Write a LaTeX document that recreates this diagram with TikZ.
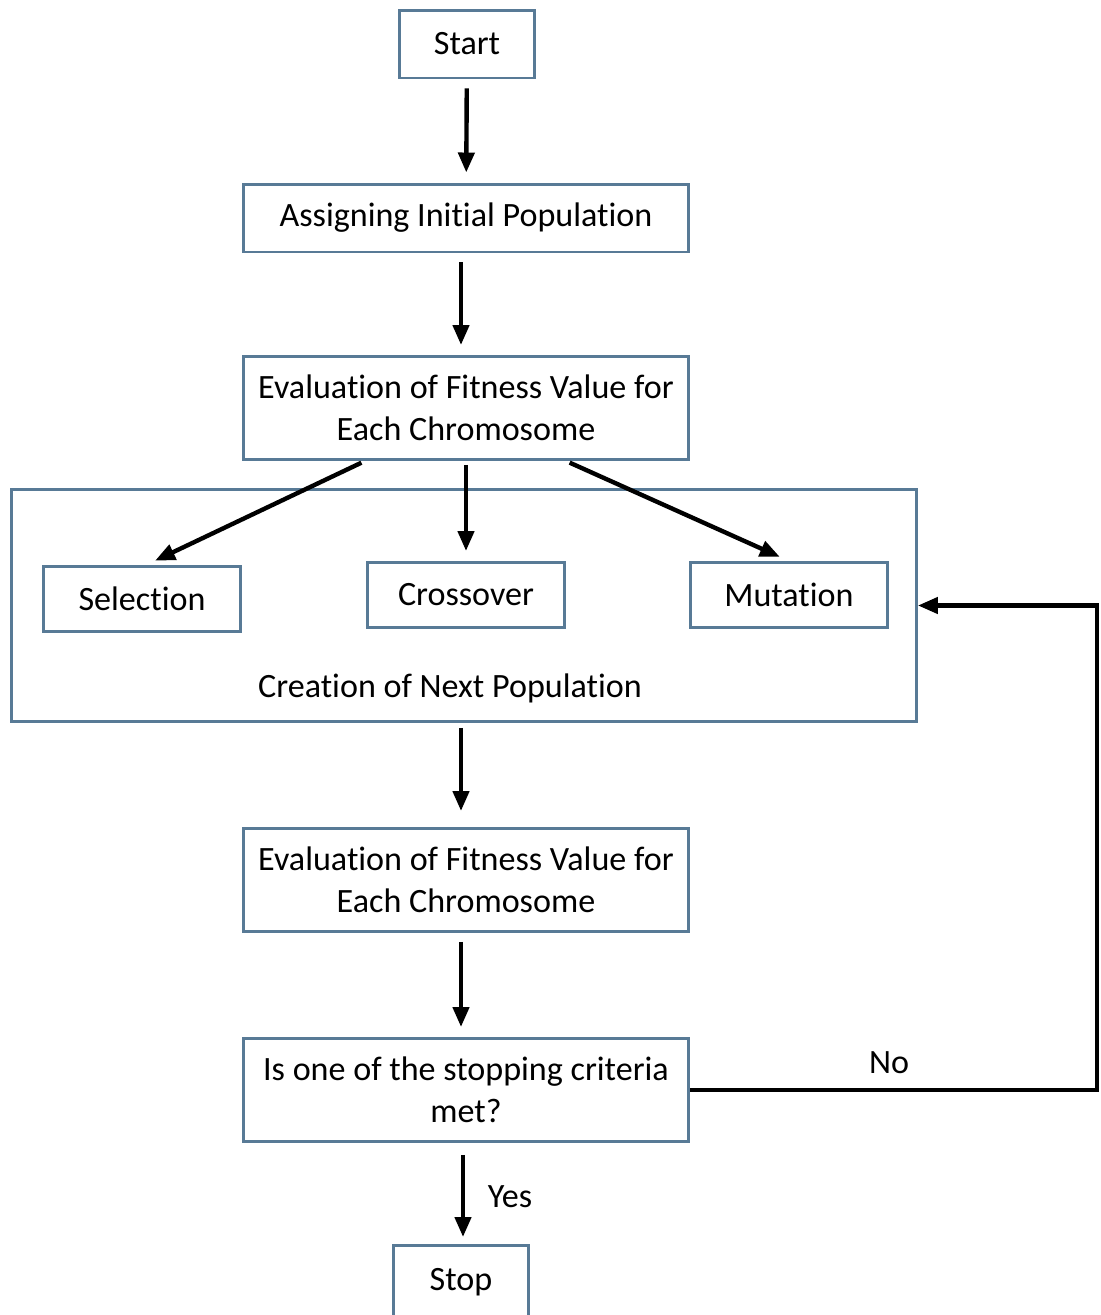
\documentclass[tikz,border=0pt]{standalone}
\usepackage{fontspec}
\setmainfont[RawFeature={-liga;-clig;-calt;-dlig}]{Carlito}
\usetikzlibrary{arrows.meta}

\definecolor{boxblue}{RGB}{88,122,150}

\begin{document}
\begin{tikzpicture}[x=0.02cm, y=-0.02cm,
                    every node/.style={font=\fontsize{19.4pt}{23.8pt}\selectfont, inner sep=0pt},
                    box/.style={draw=boxblue, line width=1.7pt, align=center},
                    wide/.style={box, minimum width=8.92cm, minimum height=1.36cm},
                    tall/.style={box, minimum width=8.92cm, minimum height=2.06cm},
                    small/.style={box, minimum width=3.96cm, minimum height=1.3cm},
                    arr/.style={-{Triangle[length=0.4cm,width=0.32cm]}, line width=2.5pt,
                                shorten <=0.18cm, shorten >=0.2cm}]
\useasboundingbox (0,0) rectangle (1101,1315);
\node[box, minimum width=2.7cm, minimum height=1.36cm] (start) at (467,44) {Start};
\node[wide] (init) at (466,218) {Assigning Initial Population};
\node[tall] (eval1) at (466,408) {Evaluation of Fitness Value for\\Each Chromosome};
\node[box, minimum width=18.1cm, minimum height=4.64cm] (cnp) at (464,605.5) {};
\node (cnptext) at (450,688) {Creation of Next Population};
\node[small] (sel) at (142,599) {Selection};
\node[small] (cross) at (466,595) {Crossover};
\node[small] (mut) at (789,595) {Mutation};
\node[tall] (eval2) at (466,880) {Evaluation of Fitness Value for\\Each Chromosome};
\node[tall] (stopq) at (466,1090) {Is one of the stopping criteria\\met?};
\node[box, minimum width=2.7cm, minimum height=1.46cm] (stop) at (461,1282) {Stop};
\node (yes) at (510,1197) {Yes};
\node (no) at (889,1063) {No};
\coordinate (loop) at (1097,1089);

\draw[arr] (start) -- (init);
\draw[arr] ([xshift=-0.1cm]init.south) -- ([xshift=-0.1cm]eval1.north);
\draw[arr, shorten <=0.08cm] ([xshift=-2.02cm]eval1.south) -- ([xshift=0.08cm]sel.north);
\draw[arr, shorten <=0.08cm] (eval1.south) -- (cross.north);
\draw[arr, shorten <=0.08cm] ([xshift=2cm]eval1.south) -- (mut.north);
\draw[arr, shorten <=0.1cm, shorten >=0.32cm] ([xshift=-0.1cm]cnp.south -| eval1.south) -- ([xshift=-0.1cm]eval2.north);
\draw[arr] ([xshift=-0.1cm]eval2.south) -- ([xshift=-0.1cm]stopq.north);
\draw[arr, shorten <=0.24cm, shorten >=0.14cm] ([xshift=0.04cm]stop.north |- stopq.south) -- ([xshift=0.04cm]stop.north);
\draw[arr, shorten <=0pt, shorten >=0pt] (stopq.east) -- (stopq.east -| loop) |- (cnp.east);
\end{tikzpicture}
\end{document}
